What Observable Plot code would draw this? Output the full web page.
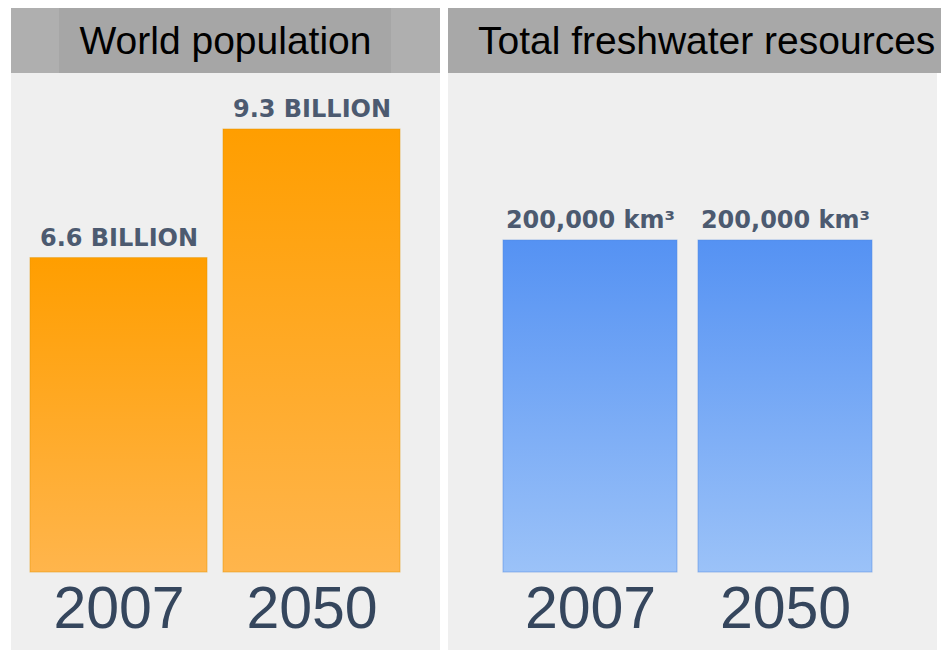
<!DOCTYPE html>
<html>
<head>
<meta charset="utf-8">
<script src="https://cdn.jsdelivr.net/npm/d3@7"></script>
<script src="https://cdn.jsdelivr.net/npm/@observablehq/plot@0.6"></script>
<style>
  html, body { margin: 0; padding: 0; background: #ffffff; width: 941px; height: 658px; overflow: hidden; }
  .panel { position: absolute; top: 8px; }
  .hdr { height: 65px; background: #a8a8a8; color: #000; font-family: "Liberation Sans", Arial, sans-serif;
         font-size: 39px; line-height: 65px; white-space: nowrap; }
  .body { background: #efefef; height: 577px; }
  .body svg { display: block; }
</style>
</head>
<body>
<div id="left" class="panel" style="left:11px; width:429px;">
  <div class="hdr" id="leftTitle" style="text-align:center; background:linear-gradient(to right,#afafaf 0,#afafaf 48px,#a6a6a6 48px,#a6a6a6 380px,#afafaf 380px)"></div>
  <div class="body" id="leftBody"></div>
</div>
<div id="right" class="panel" style="left:448px; width:493px;">
  <div class="hdr" id="rightTitle" style="padding-left:30px; box-sizing:border-box; width:493px;"></div>
  <div class="body" id="rightBody" style="width:489px;"></div>
</div>
<script>
const titles = ["World population", "Total freshwater resources"];
const years = ["2007", "2050"];
const population = [6.6, 9.3];
const populationLabels = ["6.6 BILLION", "9.3 BILLION"];
const freshwater = [200000, 200000];
const freshwaterLabels = ["200,000 km³", "200,000 km³"];

document.getElementById("leftTitle").textContent = titles[0];
document.getElementById("rightTitle").textContent = titles[1];

function gradientDefs(id, top, bottom) {
  return () => {
    const defs = d3.create("svg:defs");
    const g = defs.append("linearGradient").attr("id", id)
      .attr("x1", 0).attr("y1", 0).attr("x2", 0).attr("y2", 1);
    g.append("stop").attr("offset", "0%").attr("stop-color", top);
    g.append("stop").attr("offset", "100%").attr("stop-color", bottom);
    return defs.node();
  };
}

function panel({values, labels, width, marginLeft, marginRight, marginTop, padding, domainMax, gradId, top, bottom, edge}) {
  const data = years.map((y, i) => ({year: y, value: values[i], label: labels[i]}));
  return Plot.plot({
    width,
    height: 577,
    marginLeft, marginRight, marginTop, marginBottom: 78,
    style: {background: "transparent", overflow: "visible"},
    x: {domain: years, paddingInner: padding, paddingOuter: 0, axis: null},
    y: {domain: [0, domainMax], axis: null},
    marks: [
      gradientDefs(gradId, top, bottom),
      Plot.barY(data, {x: "year", y: "value", fill: `url(#${gradId})`, stroke: edge, strokeWidth: 1, strokeOpacity: 0.5, inset: 0}),
      Plot.text(data, {x: "year", y: "value", text: "label", dy: -20, lineAnchor: "middle",
        fontFamily: "DejaVu Sans", fontWeight: "bold", fontSize: 24, fill: "#4c5a70"}),
      Plot.axisX({tickSize: 0, tickPadding: 14, fontSize: 59, fontFamily: "Liberation Sans, Arial, sans-serif",
        color: "#35465d", label: null})
    ]
  });
}

document.getElementById("leftBody").append(panel({
  values: population, labels: populationLabels,
  width: 429, marginLeft: 19, marginRight: 40, marginTop: 56, padding: 0.083,
  domainMax: 9.3, gradId: "gOrange", top: "#ff9e00", bottom: "#ffb54c", edge: "#e59400"
}));

document.getElementById("rightBody").append(panel({
  values: freshwater, labels: freshwaterLabels,
  width: 489, marginLeft: 54, marginRight: 64, marginTop: 167, padding: 0.107,
  domainMax: 200000, gradId: "gBlue", top: "#5592f3", bottom: "#9bc2f8", edge: "#4f88e0"
}));
</script>
</body>
</html>
